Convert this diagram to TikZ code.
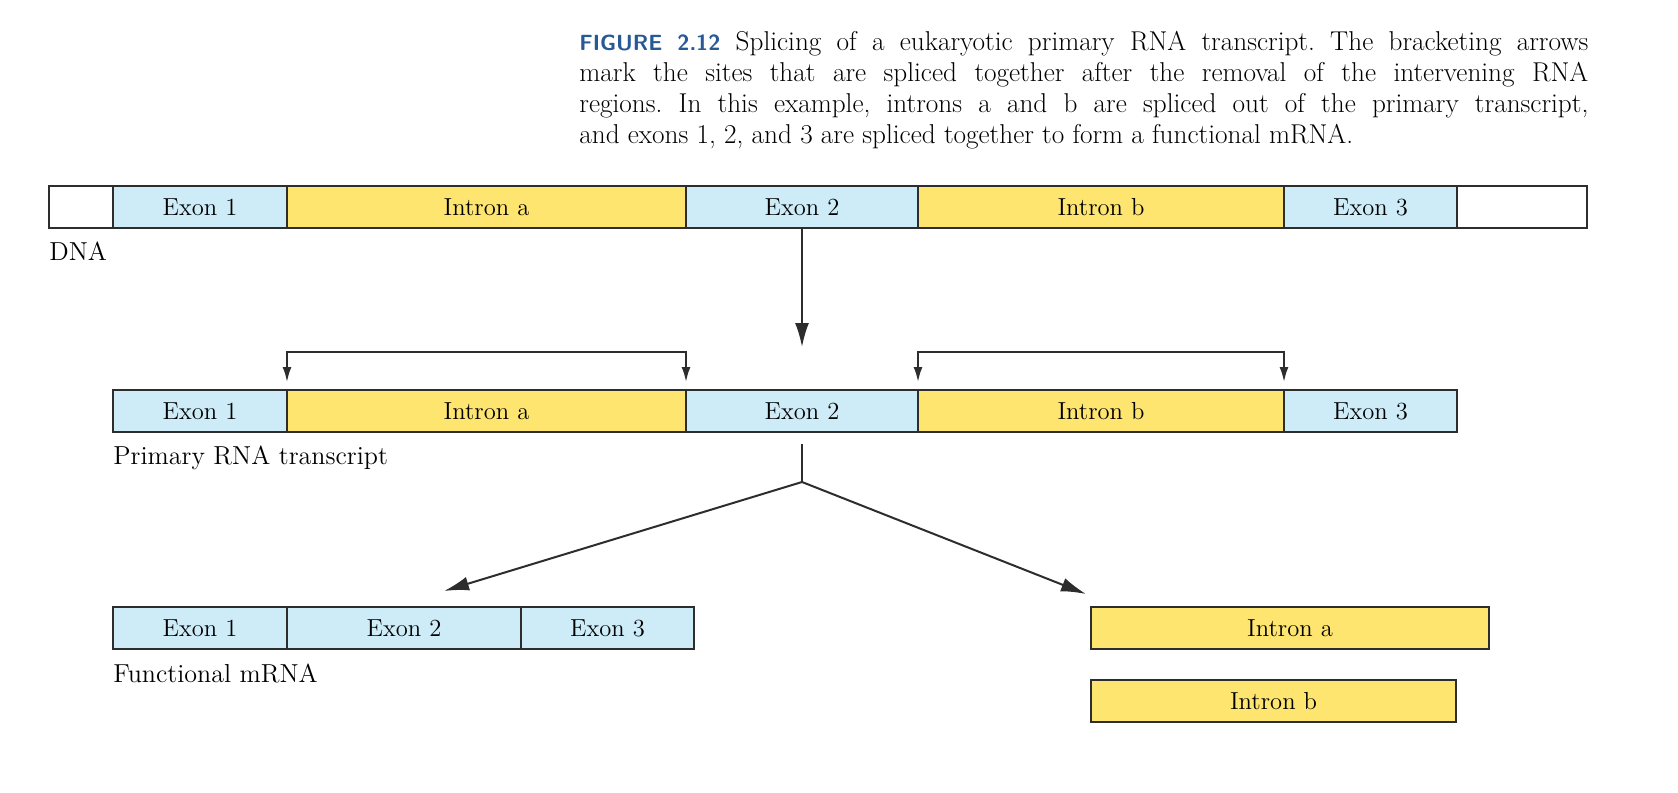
\documentclass[tikz,border=0pt]{standalone}
\usepackage{tikz}
\usetikzlibrary{positioning, arrows.meta, calc}
\definecolor{exonblue}{RGB}{205, 236, 248}
\definecolor{intronyellow}{RGB}{253, 229, 112}
\definecolor{figureblue}{RGB}{40, 88, 150}
\definecolor{edgegray}{RGB}{45, 45, 45}

\begin{document}
\begin{tikzpicture}[
  x=0.2mm, y=-0.2mm,
  font=\fontsize{14}{16}\selectfont,
  seg/.style={draw=edgegray, line width=0.4mm, minimum height=8.4mm,
    inner sep=0pt, outer sep=0pt, anchor=west, minimum width=#1*0.2mm},
  exon/.style={seg=#1, fill=exonblue},
  intron/.style={seg=#1, fill=intronyellow},
  flank/.style={seg=#1, fill=white},
  lab/.style={inner sep=0pt, font=\fontsize{14.8}{17}\selectfont},
  conn/.style={draw=edgegray, line width=0.4mm},
  vtip/.style={-{Latex[length=4.8mm, width=2.8mm]}},
  btip/.style={{Latex[length=3mm, width=1.8mm]}-{Latex[length=3mm, width=1.8mm]}},
  dtip/.style={-{Latex[length=5mm, width=2.8mm]}}
]
  \useasboundingbox (0,0) rectangle (1678,792);

  \node[inner sep=0pt, anchor=north west, text width=201.8mm, align=justify,
    font=\fontsize{15.5}{17.6}\selectfont\frenchspacing] (caption) at (579,31)
    {{\sffamily\bfseries\fontsize{12.5}{14}\selectfont\color{figureblue}FIGURE 2.12} Splicing of a eukaryotic primary RNA transcript. The bracketing arrows\linebreak
     mark the sites that are spliced together after the removal of the intervening RNA\linebreak
     regions. In this example, introns a and b are spliced out of the primary transcript,\linebreak
     and exons 1, 2, and 3 are spliced together to form a functional mRNA.};

  % DNA
  \node[flank=64] (d-l) at (49,207) {};
  \node[exon=174] (d-e1) at (113,207) {Exon 1};
  \node[intron=399] (d-ia) at (287,207) {Intron a};
  \node[exon=232] (d-e2) at (686,207) {Exon 2};
  \node[intron=366] (d-ib) at (918,207) {Intron b};
  \node[exon=173] (d-e3) at (1284,207) {Exon 3};
  \node[flank=130] (d-r) at (1457,207) {};
  \node[lab, below right=2.8mm and 0mm of d-l.south west] (d-lab) {DNA};

  % primary transcript
  \node[exon=174] (p-e1) at (113,411) {Exon 1};
  \node[intron=399] (p-ia) at (287,411) {Intron a};
  \node[exon=232] (p-e2) at (686,411) {Exon 2};
  \node[intron=366] (p-ib) at (918,411) {Intron b};
  \node[exon=173] (p-e3) at (1284,411) {Exon 3};
  \node[lab, below right=2.8mm and 0mm of p-e1.south west] (p-lab) {Primary RNA transcript};

  % spliced products
  \node[exon=174] (m-e1) at (113,628) {Exon 1};
  \node[exon=234] (m-e2) at (287,628) {Exon 2};
  \node[exon=173] (m-e3) at (521,628) {Exon 3};
  \node[lab, below right=3mm and 0mm of m-e1.south west] (m-lab) {Functional mRNA};

  \node[intron=398] (x-ia) at (1091,628) {Intron a};
  \node[intron=365] (x-ib) at (1091,701) {Intron b};

  % connectors
  \draw[conn, vtip, shorten >=8.6mm] (d-e2.south) -- (p-e2.north);
  \draw[conn, btip, shorten <=1.6mm, shorten >=1.6mm]
    (p-ia.north west) -- ++(0,-38) -| (p-ia.north east);
  \draw[conn, btip, shorten <=1.6mm, shorten >=1.6mm]
    (p-ib.north west) -- ++(0,-38) -| (p-ib.north east);

  \coordinate (split) at ($(p-e2.south)+(0,50)$);
  \coordinate (mrna-tip) at (444,591);
  \coordinate (intron-tip) at (1086,594);
  \draw[conn, shorten <=2.4mm] (p-e2.south) -- (split);
  \draw[conn, dtip] (split) -- (mrna-tip);
  \draw[conn, dtip] (split) -- (intron-tip);
\end{tikzpicture}
\end{document}
